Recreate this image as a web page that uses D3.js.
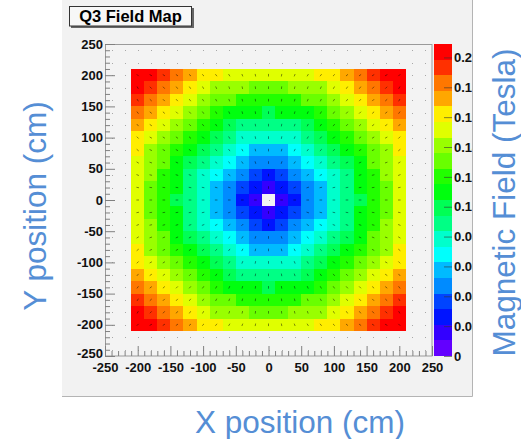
<!DOCTYPE html>
<html><head><meta charset="utf-8">
<script src="https://cdn.jsdelivr.net/npm/d3@7"></script>
<style>body{margin:0;background:#fff;} svg{display:block;}</style>
</head><body>
<svg id="c" width="521" height="439"></svg>
<script>
// ---------- data ----------
const chartTitle = "Q3 Field Map";
const xTitle = "X position (cm)";
const yTitle = "Y position (cm)";
const zTitle = "Magnetic Field (Tesla)";
const axisMajor = [-250,-200,-150,-100,-50,0,50,100,150,200,250];
const axisMinor = [-240,-230,-220,-210,-190,-180,-170,-160,-140,-130,-120,-110,-90,-80,-70,-60,-40,-30,-20,-10,10,20,30,40,60,70,80,90,110,120,130,140,160,170,180,190,210,220,230,240];
const paletteTicks = [0,0.02,0.04,0.06,0.08,0.1,0.12,0.14,0.16,0.18,0.2];
const zMax = 0.209;
const nContours = 20;
// histogram bin centres (25 x 25 bins, 20 cm wide, -250..250)
const binCenters = [-240,-220,-200,-180,-160,-140,-120,-100,-80,-60,-40,-20,0,20,40,60,80,100,120,140,160,180,200,220,240];
// filled part of the map: columns x = -200..200, rows y = 200..-200
const mapX = [-200,-180,-160,-140,-120,-100,-80,-60,-40,-20,0,20,40,60,80,100,120,140,160,180,200];
const mapY = [200,180,160,140,120,100,80,60,40,20,0,-20,-40,-60,-80,-100,-120,-140,-160,-180,-200];
const fieldMap = [
[.2090,.1989,.1893,.1804,.1724,.1652,.1592,.1543,.1507,.1485,.1478,.1485,.1507,.1543,.1592,.1652,.1724,.1804,.1893,.1989,.2090],
[.1989,.1882,.1780,.1685,.1599,.1522,.1456,.1402,.1363,.1338,.1330,.1338,.1363,.1402,.1456,.1522,.1599,.1685,.1780,.1882,.1989],
[.1893,.1780,.1673,.1571,.1478,.1394,.1322,.1263,.1219,.1192,.1182,.1192,.1219,.1263,.1322,.1394,.1478,.1571,.1673,.1780,.1893],
[.1804,.1685,.1571,.1464,.1363,.1271,.1192,.1126,.1076,.1046,.1035,.1046,.1076,.1126,.1192,.1271,.1363,.1464,.1571,.1685,.1804],
[.1724,.1599,.1478,.1363,.1255,.1154,.1066,.0991,.0935,.0899,.0887,.0899,.0935,.0991,.1066,.1154,.1255,.1363,.1478,.1599,.1724],
[.1652,.1522,.1394,.1271,.1154,.1046,.0946,.0862,.0796,.0754,.0739,.0754,.0796,.0862,.0946,.1046,.1154,.1271,.1394,.1522,.1652],
[.1592,.1456,.1322,.1192,.1066,.0946,.0837,.0739,.0661,.0609,.0591,.0609,.0661,.0739,.0837,.0946,.1066,.1192,.1322,.1456,.1592],
[.1543,.1402,.1263,.1126,.0991,.0862,.0739,.0628,.0533,.0467,.0443,.0467,.0533,.0628,.0739,.0862,.0991,.1126,.1263,.1402,.1543],
[.1507,.1363,.1219,.1076,.0935,.0796,.0661,.0533,.0419,.0330,.0296,.0330,.0419,.0533,.0661,.0796,.0935,.1076,.1219,.1363,.1507],
[.1485,.1338,.1192,.1046,.0899,.0754,.0609,.0467,.0330,.0210,.0148,.0210,.0330,.0467,.0609,.0754,.0899,.1046,.1192,.1338,.1485],
[.1478,.1330,.1182,.1035,.0887,.0739,.0591,.0443,.0296,.0148,0,.0148,.0296,.0443,.0591,.0739,.0887,.1035,.1182,.1330,.1478],
[.1485,.1338,.1192,.1046,.0899,.0754,.0609,.0467,.0330,.0210,.0148,.0210,.0330,.0467,.0609,.0754,.0899,.1046,.1192,.1338,.1485],
[.1507,.1363,.1219,.1076,.0935,.0796,.0661,.0533,.0419,.0330,.0296,.0330,.0419,.0533,.0661,.0796,.0935,.1076,.1219,.1363,.1507],
[.1543,.1402,.1263,.1126,.0991,.0862,.0739,.0628,.0533,.0467,.0443,.0467,.0533,.0628,.0739,.0862,.0991,.1126,.1263,.1402,.1543],
[.1592,.1456,.1322,.1192,.1066,.0946,.0837,.0739,.0661,.0609,.0591,.0609,.0661,.0739,.0837,.0946,.1066,.1192,.1322,.1456,.1592],
[.1652,.1522,.1394,.1271,.1154,.1046,.0946,.0862,.0796,.0754,.0739,.0754,.0796,.0862,.0946,.1046,.1154,.1271,.1394,.1522,.1652],
[.1724,.1599,.1478,.1363,.1255,.1154,.1066,.0991,.0935,.0899,.0887,.0899,.0935,.0991,.1066,.1154,.1255,.1363,.1478,.1599,.1724],
[.1804,.1685,.1571,.1464,.1363,.1271,.1192,.1126,.1076,.1046,.1035,.1046,.1076,.1126,.1192,.1271,.1363,.1464,.1571,.1685,.1804],
[.1893,.1780,.1673,.1571,.1478,.1394,.1322,.1263,.1219,.1192,.1182,.1192,.1219,.1263,.1322,.1394,.1478,.1571,.1673,.1780,.1893],
[.1989,.1882,.1780,.1685,.1599,.1522,.1456,.1402,.1363,.1338,.1330,.1338,.1363,.1402,.1456,.1522,.1599,.1685,.1780,.1882,.1989],
[.2090,.1989,.1893,.1804,.1724,.1652,.1592,.1543,.1507,.1485,.1478,.1485,.1507,.1543,.1592,.1652,.1724,.1804,.1893,.1989,.2090]
];

// ---------- layout ----------
const svg = d3.select("#c");
const FONT = "'Liberation Sans', Arial, Helvetica, sans-serif";
const BIN = 20;
const x = d3.scaleLinear().domain([-250,250]).range([105,432]);
const y = d3.scaleLinear().domain([-250,250]).range([356,44]);
const z = d3.scaleLinear().domain([0,zMax]).range([356,44]);
const bandW = zMax / nContours;
// ROOT "pretty" palette (50 hues), 20 contour levels
function bandColor(k){
  const idx = Math.floor((k + 0.99) * 50 / nContours);
  const hue = 280 - (idx + 1) * (280 / 50);
  return d3.hsl(hue, 1, 0.5).formatHex();
}
function bandOf(v){ return Math.min(nContours - 1, Math.floor(v / bandW)); }

// canvas
svg.append("rect").attr("x",62).attr("y",0).attr("width",410).attr("height",396).attr("fill","#f2f2f2");
svg.append("path").attr("d","M472.5,0V396.5H62").attr("fill","none").attr("stroke","#b4b4b4").attr("stroke-width",1);

// frame
svg.append("rect").attr("x",105).attr("y",44).attr("width",327).attr("height",312)
  .attr("fill","#f3f3f3").attr("stroke","none");

// cells
const cells = [];
fieldMap.forEach((row,r)=>row.forEach((v,c)=>cells.push({x:mapX[c],y:mapY[r],v,r,c})));
svg.append("g").attr("shape-rendering","crispEdges").selectAll("rect")
  .data(cells.filter(d=>d.v>0)).join("rect")
  .attr("x",d=>x(d.x-BIN/2)).attr("y",d=>y(d.y+BIN/2))
  .attr("width",d=>x(d.x+BIN/2)-x(d.x-BIN/2)).attr("height",d=>y(d.y-BIN/2)-y(d.y+BIN/2))
  .attr("fill",d=>bandColor(bandOf(d.v)));

// arrows (gradient of the map) and empty-bin dots
const val = (r,c)=> (r>=0&&r<fieldMap.length&&c>=0&&c<fieldMap[0].length)? fieldMap[r][c] : null;
const arrows = [], dots = [];
binCenters.forEach(by=>binCenters.forEach(bx=>{
  const c = mapX.indexOf(bx), r = mapY.indexOf(by);
  const v = (r>=0&&c>=0)? fieldMap[r][c] : 0;
  if (!v) { dots.push({x:bx,y:by}); return; }
  const l = val(r,c-1), rr = val(r,c+1), u = val(r-1,c), dn = val(r+1,c);
  let gx = (rr!==null?rr:v) - (l!==null?l:v);
  let gy = (u!==null?u:v) - (dn!==null?dn:v);
  const n = Math.hypot(gx,gy) || 1;
  arrows.push({x:bx,y:by,dx:gx/n,dy:-gy/n});
}));
svg.append("g").selectAll("line").data(arrows).join("line")
  .attr("x1",d=>x(d.x)-d.dx*1.3).attr("y1",d=>y(d.y)-d.dy*1.3)
  .attr("x2",d=>x(d.x)+d.dx*1.3).attr("y2",d=>y(d.y)+d.dy*1.3)
  .attr("stroke","#000").attr("stroke-opacity",0.45).attr("stroke-width",1);
svg.append("g").selectAll("rect").data(dots).join("rect")
  .attr("x",d=>Math.round(x(d.x))).attr("y",d=>Math.round(y(d.y)))
  .attr("width",1).attr("height",1).attr("fill","#a8a8a8");

// frame border
svg.append("rect").attr("x",105.5).attr("y",44.5).attr("width",326.5).attr("height",311.5)
  .attr("fill","none").attr("stroke","#9a9a9a");

// axes
function styleAxis(g){
  g.select(".domain").remove();
  g.selectAll("line").attr("stroke","#808080");
  g.selectAll("text").attr("fill","#111").style("font-family",FONT).style("font-weight","bold").style("font-size","13px");
}
const fmt = d=>String(d);
svg.append("g").attr("transform","translate(105,0)")
  .call(d3.axisLeft(y).tickValues(axisMinor).tickSize(-5).tickFormat("")).call(styleAxis);
svg.append("g").attr("transform","translate(105,0)")
  .call(d3.axisLeft(y).tickValues(axisMajor).tickSize(-10).tickPadding(2).tickFormat(fmt)).call(styleAxis)
  .call(g=>g.selectAll(".tick").filter(d=>d===-250).select("text").attr("dy","0.1em"));
svg.append("g").attr("transform","translate(0,356)")
  .call(d3.axisBottom(x).tickValues(axisMinor).tickSize(-5).tickFormat("")).call(styleAxis);
svg.append("g").attr("transform","translate(0,356)")
  .call(d3.axisBottom(x).tickValues(axisMajor).tickSize(-10).tickPadding(6.5).tickFormat(fmt)).call(styleAxis);

// palette
const bands = d3.range(nContours);
svg.append("g").attr("shape-rendering","crispEdges").selectAll("rect").data(bands).join("rect")
  .attr("x",434).attr("width",18)
  .attr("y",k=>z((k+1)*bandW)).attr("height",k=>z(k*bandW)-z((k+1)*bandW))
  .attr("fill",k=>bandColor(k));
svg.append("defs").append("clipPath").attr("id","pclip").append("rect")
  .attr("x",420).attr("y",30).attr("width",52).attr("height",350);
svg.append("g").attr("clip-path","url(#pclip)").append("g").attr("transform","translate(452,0)")
  .call(d3.axisRight(z).tickValues(paletteTicks).tickSize(-8).tickPadding(2)
    .tickFormat(d=>d===0?"0":d3.format(".2~f")(d)))
  .call(styleAxis)
  .call(g=>g.selectAll("line").attr("stroke","#333").attr("stroke-opacity",0.6));

// title box
svg.append("rect").attr("x",71).attr("y",8).attr("width",123).attr("height",20).attr("fill","#666");
svg.append("rect").attr("x",69.5).attr("y",6.5).attr("width",122).attr("height",19.5)
  .attr("fill","#f7f7f7").attr("stroke","#333");
svg.append("text").attr("x",130.5).attr("y",22).attr("text-anchor","middle")
  .style("font-family",FONT).style("font-weight","bold").style("font-size","16.5px").attr("fill","#000")
  .text(chartTitle);

// outer titles
const titleColor = "#558ed5";
svg.append("text").attr("x",300).attr("y",433).attr("text-anchor","middle")
  .style("font-family",FONT).style("font-size","31.5px").attr("fill",titleColor).text(xTitle);
svg.append("text").attr("transform","translate(45.5,206) rotate(-90)").attr("text-anchor","middle")
  .style("font-family",FONT).style("font-size","31.5px").attr("fill",titleColor).text(yTitle);
svg.append("text").attr("transform","translate(515,202.5) rotate(-90)").attr("text-anchor","middle")
  .style("font-family",FONT).style("font-size","31.5px").attr("fill",titleColor).text(zTitle);
</script>
</body></html>
